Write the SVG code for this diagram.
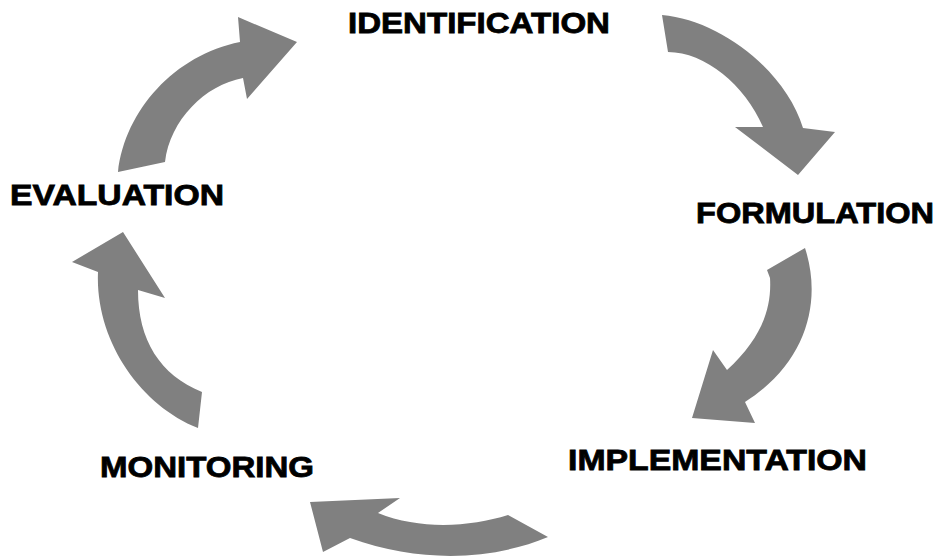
<svg xmlns="http://www.w3.org/2000/svg" width="941" height="560" viewBox="0 0 941 560">
<style>
.arrow{fill:#808080;stroke:none}
.label{font-family:"Liberation Sans",Arial,sans-serif;font-weight:bold;font-size:29px;fill:#000;stroke:#000;stroke-width:0.8px}
</style>
<rect width="941" height="560" fill="#fff"/>
<g id="connectors">
<path id="a-eval-ident" class="arrow" d="M118,172 C125,110 175,55 240,42 L238,17 L297,42 L247,99 L243,78 C205,85 170,120 165,162 Z"/>
<path id="a-ident-form" class="arrow" d="M662,15 C720,20 785,70 803,128 L835,132 L798,175 L735,127 L763,127 C745,85 705,52 668,52 Z"/>
<path id="a-form-impl" class="arrow" d="M805,248 C822,300 808,362 745,402 L755,423 L692,418 L713,350 L727,370 C760,340 772,310 770,278 L767,270 Z"/>
<path id="a-impl-mon" class="arrow" d="M508,515 C470,527 420,530 378,513 L400,498 L310,502 L323,552 L350,538 C420,563 490,561 548,537 Z"/>
<path id="a-mon-eval" class="arrow" d="M198,428 C140,405 95,340 98,272 L72,262 L123,232 L165,298 L138,290 C138,340 160,375 202,392 Z"/>
</g>
<g id="identification"><text class="label" x="348" y="33" textLength="262" lengthAdjust="spacingAndGlyphs">IDENTIFICATION</text></g>
<g id="formulation"><text class="label" x="696" y="223" textLength="238" lengthAdjust="spacingAndGlyphs">FORMULATION</text></g>
<g id="implementation"><text class="label" x="568" y="470" textLength="299" lengthAdjust="spacingAndGlyphs">IMPLEMENTATION</text></g>
<g id="monitoring"><text class="label" x="100" y="477" textLength="214" lengthAdjust="spacingAndGlyphs">MONITORING</text></g>
<g id="evaluation"><text class="label" x="10" y="205" textLength="214" lengthAdjust="spacingAndGlyphs">EVALUATION</text></g>
</svg>
